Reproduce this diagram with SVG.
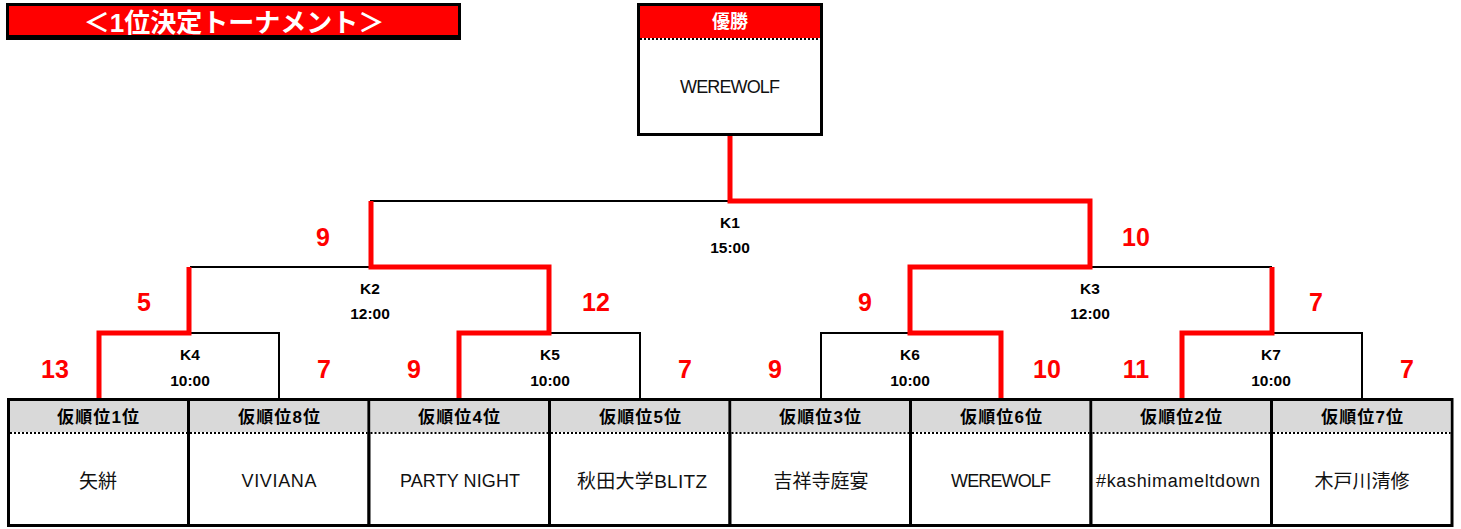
<svg xmlns="http://www.w3.org/2000/svg" width="1461" height="529" viewBox="0 0 1461 529">
<style>
text{font-family:"Liberation Sans","Noto Sans CJK JP",sans-serif;text-anchor:middle;dominant-baseline:central}
.title{font-size:26px;font-weight:bold;fill:#fff}
.hdr{font-size:17px;font-weight:bold;fill:#000}
.whdr{font-size:18px;font-weight:bold;fill:#fff}
.name{font-size:18px;fill:#111}
.cjk{font-size:19px;fill:#111}
.score{font-size:25px;font-weight:bold;fill:#ff0000}
.match{font-size:15.5px;font-weight:bold;fill:#000}
.blk{stroke:#000;stroke-width:2;fill:none}
.red{stroke:#ff0000;stroke-width:5;fill:none;stroke-linejoin:miter}
.box{fill:#fff;stroke:#000;stroke-width:3}
.dot{stroke:#000;stroke-width:2;stroke-dasharray:2 2}
</style>
<rect width="1461" height="529" fill="#fff"/>
<g id="title">
<rect x="7.5" y="4.5" width="452" height="34" fill="#ff0000" stroke="#000" stroke-width="3"/>
<rect x="7" y="35" width="453" height="5" fill="#000"/>
<text class="title" x="234" y="23">＜1位決定トーナメント＞</text>
</g>
<g id="champion">
<rect class="box" x="638.5" y="4.5" width="183" height="130"/>
<rect x="640" y="6" width="180" height="32" fill="#ff0000"/>
<line class="dot" x1="640" y1="39" x2="820" y2="39"/>
<text class="whdr" x="730" y="22">優勝</text>
<text class="name" x="730" y="87" textLength="100">WEREWOLF</text>
</g>
<g id="connectors">
<polyline class="blk" points="370,201 730,201"/>
<polyline class="blk" points="190,267 370,267"/>
<polyline class="blk" points="1090,267 1272,267"/>
<polyline class="blk" points="190,333 279,333 279,400"/>
<polyline class="blk" points="550,333 640,333 640,400"/>
<polyline class="blk" points="821,400 821,333 910,333"/>
<polyline class="blk" points="1272,333 1362,333 1362,400"/>
<polyline class="red" points="730,136 730,201 1090,201 1090,267 910,267 910,333 1001,333 1001,400"/>
<polyline class="red" points="99,400 99,333 189,333 189,267"/>
<polyline class="red" points="459,400 459,333 549,333 549,267 371,267 371,201"/>
<polyline class="red" points="1182,400 1182,333 1272,333 1272,267"/>
</g>
<g id="match-labels">
<text class="match" x="730" y="222">K1</text><text class="match" x="730" y="247">15:00</text>
<text class="match" x="370" y="288">K2</text><text class="match" x="370" y="313">12:00</text>
<text class="match" x="1090" y="288">K3</text><text class="match" x="1090" y="313">12:00</text>
<text class="match" x="190" y="354">K4</text><text class="match" x="190" y="380">10:00</text>
<text class="match" x="550" y="354">K5</text><text class="match" x="550" y="380">10:00</text>
<text class="match" x="910" y="354">K6</text><text class="match" x="910" y="380">10:00</text>
<text class="match" x="1271" y="354">K7</text><text class="match" x="1271" y="380">10:00</text>
</g>
<g id="scores">
<text class="score" x="323" y="237">9</text>
<text class="score" x="1136" y="237">10</text>
<text class="score" x="144" y="302">5</text>
<text class="score" x="596" y="302">12</text>
<text class="score" x="865" y="302">9</text>
<text class="score" x="1316" y="302">7</text>
<text class="score" x="55" y="369">13</text>
<text class="score" x="324" y="369">7</text>
<text class="score" x="414" y="369">9</text>
<text class="score" x="685" y="369">7</text>
<text class="score" x="775" y="369">9</text>
<text class="score" x="1047" y="369">10</text>
<text class="score" x="1136" y="369">11</text>
<text class="score" x="1407" y="369">7</text>
</g>
<g id="team1"><rect class="box" x="8.5" y="399.5" width="180" height="126"/><rect x="10" y="401" width="177" height="31" fill="#d9d9d9"/><line class="dot" x1="10" y1="433" x2="187" y2="433"/><text class="hdr" x="98" y="417" textLength="82">仮順位1位</text><text class="cjk" x="98" y="481">矢絣</text></g>
<g id="team2"><rect class="box" x="188.5" y="399.5" width="180.5" height="126"/><rect x="190" y="401" width="177.5" height="31" fill="#d9d9d9"/><line class="dot" x1="190" y1="433" x2="367.5" y2="433"/><text class="hdr" x="279" y="417" textLength="82">仮順位8位</text><text class="name" x="279" y="481" textLength="75">VIVIANA</text></g>
<g id="team3"><rect class="box" x="369" y="399.5" width="180.5" height="126"/><rect x="370.5" y="401" width="177.5" height="31" fill="#d9d9d9"/><line class="dot" x1="370.5" y1="433" x2="548" y2="433"/><text class="hdr" x="459" y="417" textLength="82">仮順位4位</text><text class="name" x="460" y="481" textLength="120">PARTY NIGHT</text></g>
<g id="team4"><rect class="box" x="549.5" y="399.5" width="180.5" height="126"/><rect x="551" y="401" width="177.5" height="31" fill="#d9d9d9"/><line class="dot" x1="551" y1="433" x2="728.5" y2="433"/><text class="hdr" x="640" y="417" textLength="82">仮順位5位</text><text class="cjk" x="642" y="481" textLength="130">秋田大学BLITZ</text></g>
<g id="team5"><rect class="box" x="730" y="399.5" width="180.5" height="126"/><rect x="731.5" y="401" width="177.5" height="31" fill="#d9d9d9"/><line class="dot" x1="731.5" y1="433" x2="909" y2="433"/><text class="hdr" x="820" y="417" textLength="82">仮順位3位</text><text class="cjk" x="821" y="481">吉祥寺庭宴</text></g>
<g id="team6"><rect class="box" x="910.5" y="399.5" width="180.5" height="126"/><rect x="912" y="401" width="177.5" height="31" fill="#d9d9d9"/><line class="dot" x1="912" y1="433" x2="1089.5" y2="433"/><text class="hdr" x="1001" y="417" textLength="82">仮順位6位</text><text class="name" x="1001" y="481" textLength="100">WEREWOLF</text></g>
<g id="team7"><rect class="box" x="1091" y="399.5" width="180.5" height="126"/><rect x="1092.5" y="401" width="177.5" height="31" fill="#d9d9d9"/><line class="dot" x1="1092.5" y1="433" x2="1270" y2="433"/><text class="hdr" x="1181" y="417" textLength="82">仮順位2位</text><text class="name" x="1178" y="481" textLength="164">#kashimameltdown</text></g>
<g id="team8"><rect class="box" x="1271.5" y="399.5" width="180.5" height="126"/><rect x="1273" y="401" width="177.5" height="31" fill="#d9d9d9"/><line class="dot" x1="1273" y1="433" x2="1450.5" y2="433"/><text class="hdr" x="1362" y="417" textLength="82">仮順位7位</text><text class="cjk" x="1362" y="481">木戸川清修</text></g>
</svg>
